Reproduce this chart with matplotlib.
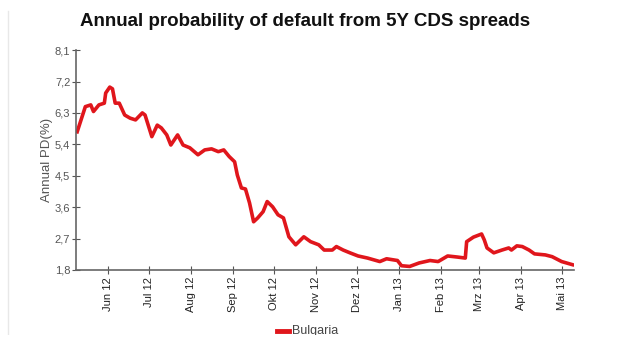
import matplotlib
matplotlib.use("Agg")
import matplotlib.pyplot as plt
import matplotlib.ticker as ticker
from matplotlib.patches import Rectangle
from matplotlib.lines import Line2D
import pandas as pd

# Bulgaria: annual probability of default implied by 5Y CDS spreads (%)
dates = ["2012-05-09", "2012-05-15", "2012-05-19", "2012-05-21", "2012-05-25", "2012-05-29",
         "2012-05-30", "2012-06-02", "2012-06-04", "2012-06-06", "2012-06-09", "2012-06-13",
         "2012-06-17", "2012-06-21", "2012-06-26", "2012-06-28", "2012-07-03", "2012-07-07",
         "2012-07-10", "2012-07-14", "2012-07-17", "2012-07-22", "2012-07-26", "2012-07-31",
         "2012-08-06", "2012-08-11", "2012-08-16", "2012-08-21", "2012-08-25", "2012-08-29",
         "2012-09-02", "2012-09-04", "2012-09-07", "2012-09-10", "2012-09-13", "2012-09-16",
         "2012-09-19", "2012-09-23", "2012-09-26", "2012-09-30", "2012-10-04", "2012-10-08",
         "2012-10-12", "2012-10-17", "2012-10-23", "2012-10-28", "2012-11-03", "2012-11-07",
         "2012-11-13", "2012-11-16", "2012-11-21", "2012-11-26", "2012-12-02", "2012-12-09",
         "2012-12-18", "2012-12-23", "2012-12-31", "2013-01-03", "2013-01-09", "2013-01-16",
         "2013-01-24", "2013-01-30", "2013-02-06", "2013-02-13", "2013-02-19", "2013-02-20",
         "2013-02-25", "2013-03-03", "2013-03-05", "2013-03-07", "2013-03-12", "2013-03-18",
         "2013-03-23", "2013-03-25", "2013-03-29", "2013-04-02", "2013-04-07", "2013-04-11",
         "2013-04-19", "2013-04-24", "2013-05-01", "2013-05-09"]
pd_values = [5.76, 6.48, 6.53, 6.34, 6.53, 6.58,
             6.87, 7.04, 6.99, 6.58, 6.58, 6.24,
             6.15, 6.10, 6.30, 6.24, 5.62, 5.95,
             5.87, 5.67, 5.38, 5.67, 5.38, 5.30,
             5.10, 5.24, 5.27, 5.19, 5.24, 5.05,
             4.90, 4.52, 4.15, 4.12, 3.72, 3.18,
             3.29, 3.47, 3.76, 3.61, 3.38, 3.29,
             2.75, 2.52, 2.75, 2.61, 2.52, 2.37,
             2.37, 2.47, 2.37, 2.29, 2.20, 2.14,
             2.04, 2.12, 2.07, 1.92, 1.90, 2.00,
             2.07, 2.04, 2.20, 2.17, 2.14, 2.61,
             2.74, 2.83, 2.66, 2.43, 2.29, 2.37,
             2.43, 2.37, 2.49, 2.47, 2.37, 2.26,
             2.23, 2.18, 2.04, 1.95]

month_ticks = ["2012-06-01", "2012-07-01", "2012-08-01", "2012-09-01", "2012-10-01",
               "2012-11-01", "2012-12-01", "2013-01-01", "2013-02-01", "2013-03-01",
               "2013-04-01", "2013-05-01"]
month_labels = ["Jun 12", "Jul 12", "Aug 12", "Sep 12", "Okt 12", "Nov 12",
                "Dez 12", "Jan 13", "Feb 13", "Mrz 13", "Apr 13", "Mai 13"]
y_ticks = [1.8, 2.7, 3.6, 4.5, 5.4, 6.3, 7.2, 8.1]

plt.rcParams['font.family'] = ['Liberation Sans', 'DejaVu Sans']

x = pd.to_datetime(dates)
fig = plt.figure(figsize=(6.32, 3.58), dpi=100)
ax = fig.add_axes([0.120, 0.246, 0.788, 0.614])

ax.plot(x, pd_values, color='#e0161c', linewidth=2.6, solid_joinstyle='round')

ax.set_xlim(pd.Timestamp("2012-05-08"), pd.Timestamp("2013-05-10"))
ax.set_ylim(1.8, 8.1)
ax.set_yticks(y_ticks)
ax.yaxis.set_major_formatter(ticker.FuncFormatter(lambda v, p: f"{v:.1f}".replace('.', ',')))
ax.set_xticks(pd.to_datetime(month_ticks))
ax.set_xticklabels(month_labels, rotation=90, fontsize=8, color='#222222')
ax.tick_params(axis='y', labelsize=8, labelcolor='#555555', direction='inout',
               length=6, color='#555555', pad=1)
ax.tick_params(axis='x', direction='inout', length=6, color='#555555', pad=2)

for side in ['top', 'right']:
    ax.spines[side].set_visible(False)
for side in ['left', 'bottom']:
    ax.spines[side].set_color('#666666')
    ax.spines[side].set_linewidth(1.2)

ax.set_ylabel("Annual PD(%)", fontsize=9.5, color='#555555', labelpad=1)

fig.text(0.483, 0.94, "Annual probability of default from 5Y CDS spreads",
         ha='center', va='center', fontsize=13.5, fontweight='bold', color='#111111')

# legend at the bottom, clipped like in the source image
fig.add_artist(Line2D([277 / 632, 289 / 632], [1 - 331 / 358] * 2,
                      color='#e0161c', linewidth=3.5))
fig.text(292 / 632, 1 - 331 / 358, "Bulgaria", fontsize=9, color='#444444',
         ha='left', va='center')
fig.add_artist(Rectangle((0, 0), 1, 1 - 334.5 / 358, transform=fig.transFigure,
                         facecolor='white', edgecolor='none', zorder=10))

# faint border line on the left edge
fig.add_artist(Line2D([8 / 632, 8 / 632], [0.05, 0.97], color='#e8e8e8', linewidth=1))

fig.savefig("out.png", dpi=100)
